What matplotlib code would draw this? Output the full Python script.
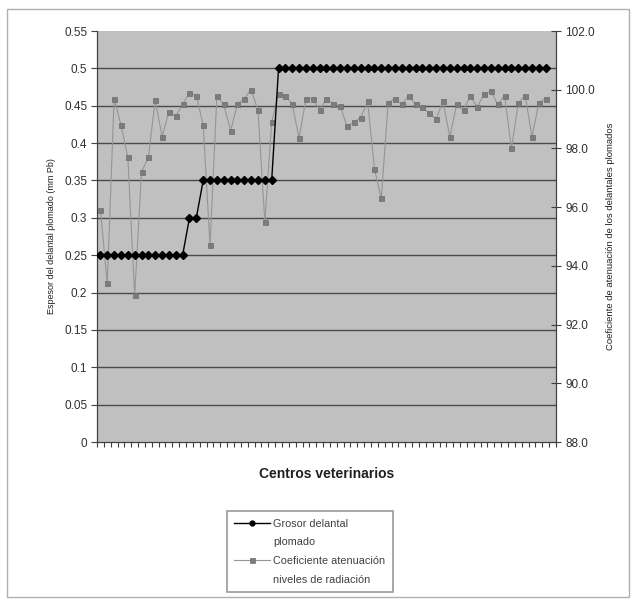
import matplotlib
matplotlib.use("Agg")
import matplotlib.pyplot as plt
from matplotlib.ticker import FixedLocator, FuncFormatter
from matplotlib.lines import Line2D
import numpy as np

plt.rcParams['font.family'] = ['Liberation Sans', 'DejaVu Sans']

# Data
centros = list(range(1, 67))
grosor = [0.25] * 13 + [0.30] * 2 + [0.35] * 11 + [0.50] * 40
coeficiente = [
    95.9, 93.4, 99.7, 98.8, 97.7, 93.0, 97.2, 97.7, 99.65, 98.4,
    99.25, 99.1, 99.5, 99.9, 99.8, 98.8, 94.7, 99.8, 99.5, 98.6,
    99.5, 99.7, 100.0, 99.3, 95.5, 98.9, 99.85, 99.8, 99.5, 98.35,
    99.7, 99.7, 99.3, 99.7, 99.5, 99.45, 98.75, 98.9, 99.05, 99.6,
    97.3, 96.3, 99.55, 99.7, 99.5, 99.8, 99.5, 99.4, 99.2, 99.0,
    99.6, 98.4, 99.5, 99.3, 99.8, 99.4, 99.85, 99.95, 99.5, 99.8,
    98.0, 99.55, 99.8, 98.4, 99.55, 99.7,
]
left_ticks = [0, 0.05, 0.1, 0.15, 0.2, 0.25, 0.3, 0.35, 0.4, 0.45, 0.5, 0.55]
left_tick_labels = ["0", "0.05", "0.1", "0.15", "0.2", "0.25", "0.3", "0.35", "0.4", "0.45", "0.5", "0.55"]
right_ticks = [88, 90, 92, 94, 96, 98, 100, 102]
legend_lines_1 = ["Grosor delantal", "plomado"]
legend_lines_2 = ["Coeficiente atenuación", "niveles de radiación"]

fig = plt.figure(figsize=(6.36, 6.0), dpi=100)
# outer frame
fig.patches.append(plt.Rectangle((7/636, 3/600), 622/636, 588/600, transform=fig.transFigure,
                                 fill=False, edgecolor='#b0b0b0', lw=1.0, zorder=-2))
pos = [0.1525, 0.2633, 0.7217, 0.685]
# plot-area background
fig.patches.append(plt.Rectangle((pos[0], pos[1]), pos[2], pos[3], transform=fig.transFigure,
                                 facecolor='#c0c0c0', edgecolor='none', zorder=-1))

ax = fig.add_axes(pos)
ax2 = ax.twinx()
ax.set_zorder(1)
ax2.set_zorder(0)
ax.patch.set_visible(False)
ax2.patch.set_visible(False)

x = np.arange(len(centros))

for t in left_ticks[1:-1]:
    ax2.axhline(88 + t / 0.55 * 14, color='#4a4a4a', lw=1.0, zorder=1)

l2, = ax2.plot(x, coeficiente, color='#959595', lw=0.8, marker='s', markersize=3.6,
               markerfacecolor='#7c7c7c', markeredgecolor='#6c6c6c', markeredgewidth=0.5,
               zorder=3)
l1, = ax.plot(x, grosor, color='black', lw=1.0, marker='D', markersize=3.6,
              markerfacecolor='black', markeredgecolor='black', zorder=4)

ax.set_xlim(-0.5, 66.5)
ax.set_ylim(0, 0.55)
ax2.set_ylim(88, 102)

ax.yaxis.set_major_locator(FixedLocator(left_ticks))
ax.set_yticklabels(left_tick_labels)
ax2.yaxis.set_major_locator(FixedLocator(right_ticks))
ax2.yaxis.set_major_formatter(FuncFormatter(lambda v, p: f"{v:.1f}"))

ax.set_xticks(np.arange(-0.5, 67.0, 1.0))
ax.set_xticklabels([])
ax.tick_params(axis='x', direction='out', length=3.5, width=0.8, color='#404040')
ax.tick_params(axis='y', direction='out', length=4, width=0.8, color='#404040',
               labelsize=8.5, labelcolor='#303030', pad=3)
ax2.tick_params(axis='y', direction='inout', length=7, width=0.8, color='#404040',
                labelsize=8.5, labelcolor='#303030', pad=3)

for a in (ax, ax2):
    a.spines['top'].set_visible(False)
    a.spines['left'].set_color('#404040')
    a.spines['right'].set_color('#404040')
    a.spines['bottom'].set_color('#404040')

ax.set_ylabel('Espesor del delantal plomado (mm Pb)', fontsize=6.5, color='#202020', labelpad=6)
ax2.set_ylabel('Coeficiente de atenuación de los delantales plomados', fontsize=6.8,
               color='#202020', labelpad=8)
ax.set_xlabel('Centros veterinarios', fontsize=10, fontweight='bold', color='#202020', labelpad=11)

blank = Line2D([], [], linestyle='none', marker=None)
h1 = Line2D([], [], color='black', lw=1.0, marker='o', markersize=3.5,
            markerfacecolor='black', markeredgecolor='black')
h2 = Line2D([], [], color='#959595', lw=0.8, marker='s', markersize=3.6,
            markerfacecolor='#7c7c7c', markeredgecolor='#6c6c6c', markeredgewidth=0.5)
leg = fig.legend(handles=[h1, blank, h2, blank],
                 labels=[legend_lines_1[0], legend_lines_1[1], legend_lines_2[0], legend_lines_2[1]],
                 loc='upper center', bbox_to_anchor=(0.487, 0.157),
                 bbox_transform=fig.transFigure, fontsize=7.8, frameon=True, fancybox=False,
                 edgecolor='#808080', handlelength=3.3, handletextpad=0.25, labelspacing=0.8,
                 borderpad=0.7, labelcolor='#404040')
leg.get_frame().set_linewidth(1.2)

fig.savefig('out.png', dpi=100)
